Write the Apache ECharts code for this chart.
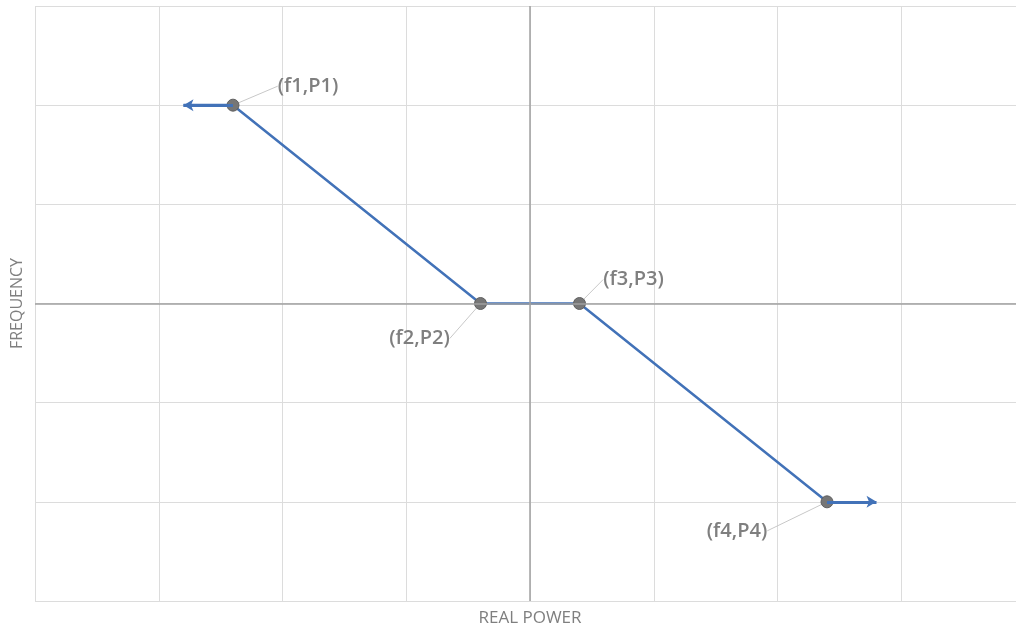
<!DOCTYPE html>
<html><head><meta charset="utf-8">
<script src="https://cdn.jsdelivr.net/npm/echarts@6/dist/echarts.min.js"></script>
<style>html,body{margin:0;padding:0;background:#fff}#c{width:1016px;height:632px}</style>
</head><body><div id="c"></div>
<script>
const pointLabels = ['(f1,P1)', '(f2,P2)', '(f3,P3)', '(f4,P4)'];
const powerValues = [-2.4, -0.4, 0.4, 2.4];
const freqValues = [2, 0, 0, -2];
const arrowLeft = [[-2.4, 2], [-2.8, 2]];
const arrowRight = [[2.4, -2], [2.8, -2]];
const labelOffsets = [[75, -19], [-61, 35], [54, -24], [-90, 29]];
const xAxisName = 'REAL POWER';
const yAxisName = 'FREQUENCY';

const chart = echarts.init(document.getElementById('c'));
const blue = '#4272b8';
const gray = '#7f7f7f';
const font = '"Open Sans", Lato, sans-serif';

chart.setOption({
  animation: false,
  grid: { left: 35, top: 6, bottom: 31, right: -9, outerBoundsMode: 'none', containLabel: false },
  xAxis: {
    type: 'value', min: -4, max: 4, interval: 1,
    name: xAxisName, nameLocation: 'middle', nameGap: 9,
    nameTextStyle: { color: gray, fontSize: 17, fontFamily: font, verticalAlign: 'top' },
    axisLine: { show: false, onZero: false }, axisTick: { show: false }, axisLabel: { show: false },
    splitLine: { lineStyle: { color: '#dcdcdc', width: 1 } }
  },
  yAxis: {
    type: 'value', min: -3, max: 3, interval: 1,
    name: yAxisName, nameLocation: 'middle', nameGap: 10,
    nameTextStyle: { color: gray, fontSize: 16, fontFamily: font },
    axisLine: { show: false, onZero: false }, axisTick: { show: false }, axisLabel: { show: false },
    splitLine: { lineStyle: { color: '#dcdcdc', width: 1 } }
  },
  series: [
    {
      type: 'line', z: 1, silent: true, symbol: 'none', data: [],
      markLine: {
        silent: true, symbol: 'none', label: { show: false },
        lineStyle: { color: '#a0a0a0', width: 1.5, type: 'solid' },
        data: [{ xAxis: 0 }, { yAxis: 0 }]
      }
    },
    {
      type: 'line', z: 2, symbol: 'none', data: arrowLeft,
      lineStyle: { color: blue, width: 3 },
      markLine: {
        silent: true, symbol: ['none', 'arrow'], symbolSize: [9, 10], label: { show: false },
        lineStyle: { color: blue, width: 3, type: 'solid' },
        data: [[{ coord: arrowLeft[0] }, { coord: arrowLeft[1] }], [{ coord: arrowRight[0] }, { coord: arrowRight[1] }]]
      }
    },
    {
      type: 'line', z: 3,
      data: powerValues.map((x, i) => [x, freqValues[i]]),
      lineStyle: { color: blue, width: 2.5 },
      symbol: 'circle', symbolSize: 12,
      itemStyle: { color: '#767676', borderColor: '#5e5e5e', borderWidth: 1 },
      label: {
        show: true, color: gray, fontSize: 20, fontWeight: 600, fontFamily: font, position: 'inside',
        formatter: p => pointLabels[p.dataIndex]
      },
      labelLayout: p => ({ dx: labelOffsets[p.dataIndex][0], dy: labelOffsets[p.dataIndex][1] }),
      labelLine: { show: true, lineStyle: { color: '#c8c8c8', width: 1 } }
    }
  ]
});
</script></body></html>
